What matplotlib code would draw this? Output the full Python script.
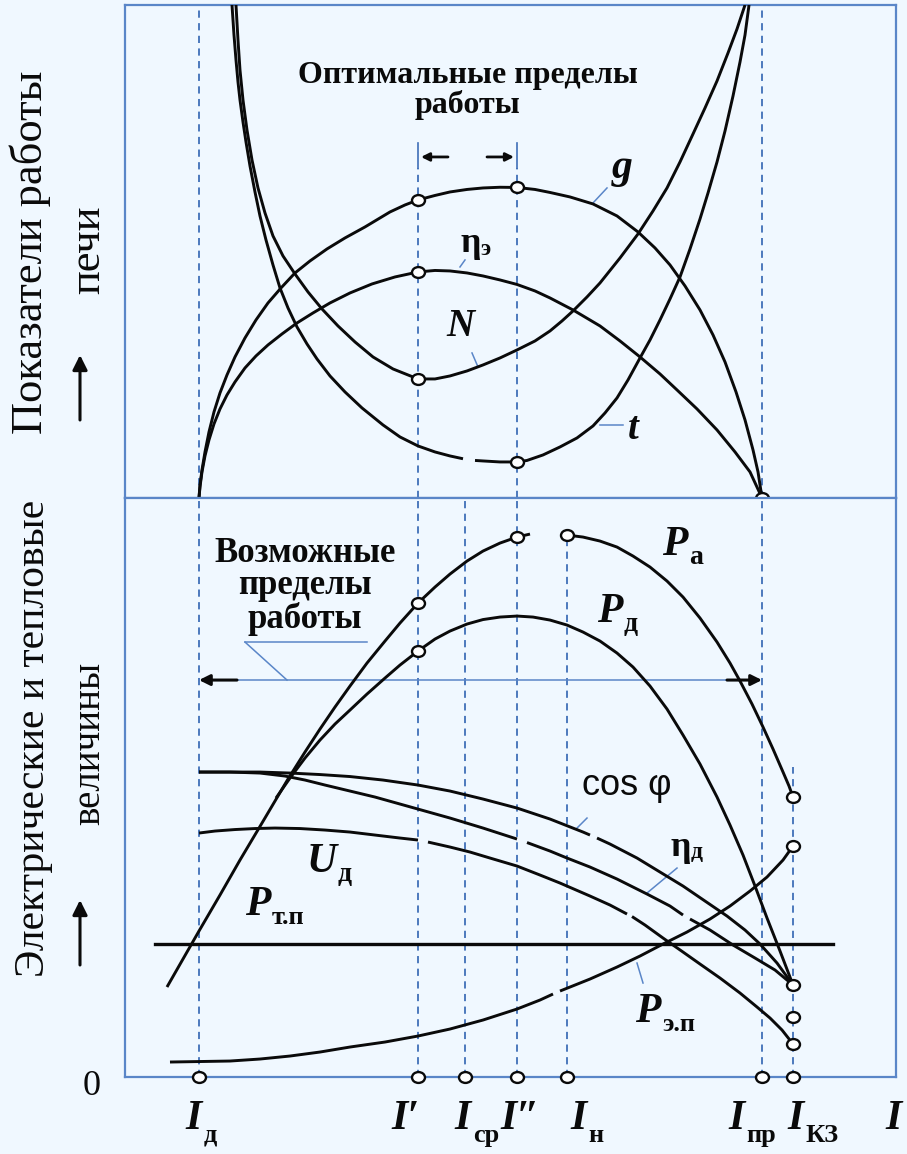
import numpy as np
import matplotlib
matplotlib.use("Agg")
import matplotlib.pyplot as plt
from matplotlib.markers import MarkerStyle
from matplotlib.transforms import Affine2D
from matplotlib.patches import FancyArrowPatch

plt.rcParams['font.family'] = ['Liberation Serif', 'DejaVu Serif']

BG = '#f0f8ff'
BLUE = '#3f6fb8'
BOX = '#5a86c8'
INK = '#0a0a0a'

# ---- characteristic currents (relative units along the current axis) ----
I_d, I_1, I_sr, I_2, I_n, I_pr, I_kz = 7.4, 29.3, 34.0, 39.2, 44.2, 63.7, 66.8
X_MAX = 77.1
Y_TOP_MAX = 49.3
Y_BOT_MAX = 57.9

# ---- furnace performance indicators (upper panel) ----
g_x = [7.4, 7.5, 7.7, 8.0, 8.4, 8.9, 9.5, 10.2, 11.0, 12.0, 13.1, 14.3, 15.6, 17.0,
       18.5, 20.2, 22.0, 24.0, 26.5, 28.0, 29.3, 31.0, 32.5, 34.2, 35.8, 37.5, 39.2,
       41.0, 42.5, 44.5, 46.8, 49.2, 51.3, 53.0, 54.5, 56.0, 57.5, 58.8, 60.0, 61.1,
       62.0, 62.8, 63.3, 63.7]
g_y = [0.0, 1.3, 2.8, 4.6, 6.6, 8.6, 10.5, 12.3, 14.1, 16.0, 17.8, 19.5, 21.0, 22.5,
       23.7, 24.9, 26.0, 27.1, 28.6, 29.3, 29.8, 30.25, 30.6, 30.85, 31.0, 31.07, 31.05,
       30.85, 30.55, 30.1, 29.4, 28.2, 26.6, 25.0, 23.3, 21.2, 18.8, 16.3, 13.6, 10.6,
       7.8, 4.8, 2.6, 0.0]

eta_e_x = [7.4, 7.5, 7.7, 8.0, 8.4, 8.9, 9.5, 10.2, 11.0, 12.0, 13.1, 14.3, 15.7, 17.2,
           18.8, 20.5, 22.5, 24.7, 27.0, 29.3, 31.0, 32.5, 34.2, 35.8, 37.5, 39.2, 41.0,
           42.5, 44.8, 47.5, 49.5, 51.5, 53.5, 55.2, 57.2, 59.2, 61.0, 62.5, 63.7]
eta_e_y = [0.0, 1.1, 2.6, 4.2, 5.8, 7.4, 8.9, 10.3, 11.6, 13.0, 14.2, 15.3, 16.4, 17.5,
           18.5, 19.5, 20.5, 21.4, 22.1, 22.6, 22.75, 22.7, 22.5, 22.2, 21.8, 21.35, 20.7,
           20.0, 18.8, 17.2, 15.7, 14.1, 12.4, 10.8, 8.9, 6.8, 4.6, 2.6, 0.0]

N_x = [11.1, 11.3, 11.5, 11.8, 12.2, 12.7, 13.3, 14.0, 14.8, 15.8, 17.0, 18.3, 19.7,
       21.3, 23.0, 24.8, 26.8, 29.3, 31.0, 32.5, 34.2, 35.8, 37.5, 39.2, 41.0, 42.5,
       43.7, 44.8, 46.2, 47.5, 49.5, 51.3, 52.8, 54.2, 55.5, 56.8, 58.0, 59.2, 60.3,
       61.2, 62.0]
N_y = [49.3, 45.8, 42.8, 39.8, 36.8, 33.8, 31.0, 28.5, 26.2, 24.2, 22.4, 20.6, 18.9,
       17.2, 15.6, 14.1, 12.9, 11.9, 11.9, 12.2, 12.7, 13.3, 14.0, 14.8, 15.7, 16.7,
       17.7, 18.7, 20.1, 21.5, 24.0, 26.4, 28.7, 31.0, 33.6, 36.4, 39.0, 41.7, 44.5,
       46.9, 49.3]

t_x = [10.7, 10.9, 11.1, 11.3, 11.5, 11.8, 12.1, 12.5, 13.0, 13.5, 14.1, 14.8, 15.5,
       16.3, 17.2, 18.2, 19.2, 20.5, 22.0, 23.7, 25.8, 27.5, 29.3, 31.0, 32.5, 33.8,
       35.0, 35.8, 37.5, 39.2, 40.2, 41.8, 43.5, 45.2, 46.8, 48.0, 49.2, 50.3, 51.5, 52.5,
       53.5, 54.5, 55.5, 56.5, 57.5, 58.3, 59.2, 60.0, 60.8, 61.5, 62.0, 62.4]
t_y = [49.3, 46.3, 43.8, 41.6, 39.8, 37.6, 35.6, 33.2, 30.6, 28.2, 25.8, 23.3, 21.0,
       19.0, 17.1, 15.4, 13.9, 12.2, 10.6, 9.0, 7.3, 6.1, 5.2, 4.6, 4.2, 3.92,
       3.75, 3.7, 3.6, 3.6, 3.75, 4.3, 5.1, 6.0, 7.2, 8.5, 10.0, 11.8, 14.0, 15.8,
       17.8, 19.9, 22.1, 24.9, 27.9, 30.5, 33.6, 36.7, 40.2, 43.6, 46.3, 49.3]

# ---- electrical and thermal quantities (lower panel) ----
Pa_left_x = [4.2, 5.8, 7.4, 9.5, 11.5, 13.7, 16.3, 18.0, 19.5, 21.0, 22.5, 24.2, 26.0,
             27.5, 29.3, 31.0, 32.5, 34.2, 35.8, 37.5, 39.2, 40.5]
Pa_left_y = [9.0, 11.8, 14.6, 18.2, 21.7, 25.4, 29.8, 32.5, 34.8, 37.0, 39.1, 41.4, 43.6,
             45.4, 47.4, 49.0, 50.3, 51.6, 52.6, 53.4, 54.0, 54.3]
Pa_right_x = [44.2, 45.8, 47.5, 49.2, 50.8, 52.5, 54.2, 55.8, 57.5, 59.2, 60.5, 61.5,
              62.7, 63.8, 64.8, 65.8, 66.4, 66.8]
Pa_right_y = [54.2, 54.0, 53.6, 53.0, 52.1, 51.0, 49.6, 48.0, 45.9, 43.5, 41.4, 39.6,
              37.3, 35.0, 32.8, 30.5, 29.1, 28.0]

Pd_x = [15.1, 16.5, 18.0, 19.5, 21.0, 22.5, 24.2, 26.0, 27.5, 29.3, 31.0, 32.5, 34.2,
        35.8, 37.5, 39.2, 40.8, 42.5, 44.2, 45.8, 47.5, 49.2, 50.8, 52.5, 54.2, 55.8,
        57.5, 59.2, 60.5, 61.8, 63.0, 64.2, 65.5, 66.8]
Pd_y = [27.9, 29.9, 31.9, 33.7, 35.3, 36.7, 38.3, 39.9, 41.2, 42.6, 43.8, 44.6, 45.3,
        45.75, 46.0, 46.1, 46.0, 45.7, 45.2, 44.5, 43.6, 42.4, 41.0, 39.1, 36.8, 34.2,
        31.3, 28.0, 25.2, 22.2, 19.1, 15.9, 12.6, 9.2]

cos_x = [7.4, 10.5, 13.5, 16.5, 19.5, 22.5, 25.8, 29.3, 32.5, 35.8, 39.2, 42.5, 45.8,
         46.5, 47.2, 48.5, 51.2, 53.5, 55.8, 58.0, 60.2, 62.0, 63.5, 65.2, 66.8]
cos_y = [30.5, 30.5, 30.5, 30.4, 30.25, 30.05, 29.7, 29.2, 28.6, 27.8, 26.9, 25.8, 24.5,
         24.2, 23.9, 23.3, 21.9, 20.5, 19.1, 17.6, 16.1, 14.7, 13.3, 11.4, 9.2]

eta_d_x = [7.4, 10.5, 13.5, 16.0, 18.0, 20.0, 22.5, 25.0, 27.5, 30.0, 32.5, 35.8, 39.2,
           40.2, 42.5, 44.2, 46.5, 49.2, 52.2, 54.5, 55.8, 56.5, 58.5, 60.8, 63.0, 65.0, 66.8]
eta_d_y = [30.5, 30.5, 30.4, 30.1, 29.7, 29.2, 28.6, 28.0, 27.3, 26.6, 25.9, 24.9, 23.8,
           23.45, 22.6, 21.9, 21.0, 19.8, 18.3, 17.1, 16.2, 15.8, 14.7, 13.2, 11.9, 10.7, 9.2]

U_x = [7.4, 9.0, 11.0, 13.0, 15.0, 17.5, 20.0, 22.5, 25.0, 27.5, 29.3, 30.3, 32.5,
       34.5, 36.5, 39.2, 41.5, 43.5, 46.5, 48.5, 50.2, 50.7, 52.0, 53.8, 55.8, 57.5,
       59.5, 61.5, 63.2, 64.5, 65.7, 66.8]
U_y = [24.4, 24.6, 24.75, 24.85, 24.9, 24.85, 24.7, 24.5, 24.2, 23.9, 23.7, 23.5, 23.0,
       22.5, 21.9, 21.1, 20.2, 19.4, 18.1, 17.2, 16.3, 16.05, 15.2, 13.9, 12.5, 11.3,
       9.9, 8.4, 7.0, 5.9, 4.7, 3.3]

Pep_x = [4.5, 7.5, 10.5, 13.5, 16.5, 19.5, 22.5, 26.0, 29.3, 32.5, 35.8, 39.2, 41.5,
         42.8, 43.5, 46.5, 49.2, 51.5, 53.8, 56.2, 58.5, 60.5, 62.5, 64.2, 65.8, 66.8]
Pep_y = [1.5, 1.55, 1.6, 1.8, 2.1, 2.5, 3.0, 3.5, 4.1, 4.8, 5.7, 6.8, 7.7,
         8.3, 8.6, 9.8, 11.0, 12.1, 13.3, 14.5, 15.8, 17.1, 18.6, 20.0, 21.7, 23.1]

P_tp = 13.3
P_tp_span = (3.0, 70.8)

kz_extra = 6.0

# ---------------------------------------------------------------------------
fig = plt.figure(figsize=(9.07, 11.54), dpi=100, facecolor=BG)
ax_top = fig.add_axes([0.1378, 0.5685, 0.8501, 0.4272])
ax_bot = fig.add_axes([0.1378, 0.0667, 0.8501, 0.5017])

for ax, ymax in ((ax_top, Y_TOP_MAX), (ax_bot, Y_BOT_MAX)):
    ax.set_facecolor(BG)
    ax.set_xlim(0, X_MAX)
    ax.set_ylim(0, ymax)
    ax.set_xticks([])
    ax.set_yticks([])
    for sp in ax.spines.values():
        sp.set_color(BOX)
        sp.set_linewidth(1.6)

DASH = (0, (4, 3))
LW_DASH = 1.3


def vdash(ax, x, y0, y1):
    ax.plot([x, x], [y0, y1], color=BLUE, lw=LW_DASH, ls=DASH, zorder=1)


# dashed construction lines
for x in (I_d, I_pr):
    vdash(ax_top, x, 0, Y_TOP_MAX)
for x in (I_1, I_2):
    vdash(ax_top, x, 0, 33.0)
    ax_top.plot([x, x], [33.0, 35.5], color=BLUE, lw=1.2, zorder=1)
for x in (I_d, I_1, I_sr, I_2, I_pr):
    vdash(ax_bot, x, 0, Y_BOT_MAX)
vdash(ax_bot, I_n, 0, 54.2)
vdash(ax_bot, I_kz, 0, 31.0)

CURVE = dict(color=INK, lw=2.1, solid_capstyle='butt', solid_joinstyle='round', zorder=3)


def curve(ax, xs, ys, breaks=()):
    """Draw a polyline through the points, leaving a small break after each index in breaks."""
    start = 0
    for b in list(breaks) + [len(xs) - 1]:
        ax.plot(xs[start:b + 1], ys[start:b + 1], **CURVE)
        start = b + 1


# upper panel curves
curve(ax_top, g_x, g_y)
curve(ax_top, eta_e_x, eta_e_y)
curve(ax_top, N_x, N_y)
curve(ax_top, t_x, t_y, breaks=[25])

# lower panel curves
curve(ax_bot, Pa_left_x, Pa_left_y)
curve(ax_bot, Pa_right_x, Pa_right_y)
curve(ax_bot, Pd_x, Pd_y)
curve(ax_bot, cos_x, cos_y, breaks=[13])
curve(ax_bot, eta_d_x, eta_d_y, breaks=[12, 20])
curve(ax_bot, U_x, U_y, breaks=[10, 20])
curve(ax_bot, Pep_x, Pep_y, breaks=[13])
ax_bot.plot(P_tp_span, [P_tp, P_tp], color=INK, lw=2.4, zorder=3)

oval = MarkerStyle('o', transform=Affine2D().scale(1.1, 0.92))
MK = dict(marker=oval, ms=8.5, mfc='white', mec=INK, mew=1.7, ls='none', zorder=6)

# characteristic points
ax_top.plot([I_1, I_2], [np.interp(I_1, g_x, g_y), np.interp(I_2, g_x, g_y)], **MK)
ax_top.plot([I_1], [np.interp(I_1, eta_e_x, eta_e_y)], **MK)
ax_top.plot([I_1], [np.interp(I_1, N_x, N_y)], **MK)
ax_top.plot([I_2], [np.interp(I_2, t_x, t_y)], **MK)
ax_top.plot([I_pr], [0], clip_on=False, **MK)

ax_bot.plot([I_1, I_2], [np.interp(I_1, Pa_left_x, Pa_left_y),
                         np.interp(I_2, Pa_left_x, Pa_left_y)], **MK)
ax_bot.plot([I_n], [Pa_right_y[0]], **MK)
ax_bot.plot([I_1], [np.interp(I_1, Pd_x, Pd_y)], **MK)
kz_points = [Pa_right_y[-1], Pep_y[-1], Pd_y[-1], kz_extra, U_y[-1]]
ax_bot.plot([I_kz] * len(kz_points), kz_points, **MK)
ax_bot.plot([I_d, I_1, I_sr, I_2, I_n, I_pr, I_kz], [0] * 7, clip_on=False, **MK)

LEAD = dict(color=BOX, lw=1.1, zorder=2)

# ---- labels ----


def var_label(ax, x, y, main, sub=None, size=30, subsize=19, dx=12, dy=-9, upright=False):
    ax.text(x, y, main, fontsize=size, style='normal' if upright else 'italic',
            weight='bold', color=INK, ha='center', va='center', zorder=7)
    if sub:
        ax.annotate(sub, xy=(x, y), xytext=(dx, dy), textcoords='offset points',
                    fontsize=subsize, weight='bold', color=INK,
                    ha='left', va='center', zorder=7)


var_label(ax_top, 49.7, 33.0, 'g', size=30)
ax_top.plot([46.8, 48.2], [29.5, 31.0], **LEAD)
var_label(ax_top, 34.6, 25.4, 'η', 'э', size=26, subsize=17, dx=7, dy=-4, upright=True)
ax_top.plot([33.5, 34.0], [23.1, 23.8], **LEAD)
var_label(ax_top, 33.5, 17.1, 'N', size=28)
ax_top.plot([34.7, 35.3], [14.5, 13.1], **LEAD)
var_label(ax_top, 50.8, 6.8, 't', size=28)
ax_top.plot([47.5, 49.8], [7.3, 7.3], **LEAD)

ax_top.text((I_1 + I_2) / 2, 40.7, 'Оптимальные пределы\nработы', fontsize=23,
            weight='bold', ha='center', va='center', linespacing=1.0, color=INK)
ARR = dict(arrowstyle='-|>', color=INK, lw=2.0, mutation_scale=12, shrinkA=0, shrinkB=0)
ax_top.annotate('', xy=(I_1 + 0.3, 34.1), xytext=(I_1 + 3.0, 34.1), arrowprops=ARR)
ax_top.annotate('', xy=(I_2 - 0.3, 34.1), xytext=(I_2 - 3.0, 34.1), arrowprops=ARR)

var_label(ax_bot, 55.0, 53.2, 'P', 'а', size=30, subsize=20, dx=10, dy=-9)
var_label(ax_bot, 48.5, 46.5, 'P', 'д', size=30, subsize=20, dx=10, dy=-9)
ax_bot.text(50.2, 29.2, 'cos φ', fontsize=26, ha='center', va='center', color=INK,
            family=['Liberation Sans', 'DejaVu Sans'])
ax_bot.plot([45.2, 46.2], [24.9, 25.9], **LEAD)
var_label(ax_bot, 55.6, 23.0, 'η', 'д', size=26, subsize=17, dx=7, dy=-4, upright=True)
ax_bot.plot([52.2, 55.2], [18.4, 20.9], **LEAD)
var_label(ax_bot, 19.7, 21.5, 'U', 'д', size=30, subsize=20, dx=11, dy=-9)
var_label(ax_bot, 13.3, 17.2, 'P', 'т.п', size=30, subsize=19, dx=10, dy=-9)
var_label(ax_bot, 52.3, 6.5, 'P', 'э.п', size=30, subsize=19, dx=10, dy=-9)
ax_bot.plot([51.2, 51.8], [11.4, 9.4], **LEAD)

ax_bot.text(18.0, 49.1, 'Возможные\nпределы\nработы', fontsize=25, weight='bold',
            ha='center', va='center', linespacing=0.98, color=INK)
ax_bot.plot([12.0, 24.2], [43.5, 43.5], **LEAD)
ax_bot.plot([12.0, 16.2], [43.5, 39.7], **LEAD)
ax_bot.plot([11.2, 60.2], [39.7, 39.7], **LEAD)
ARR2 = dict(arrowstyle='-|>', color=INK, lw=2.2, mutation_scale=16, shrinkA=0, shrinkB=0)
ax_bot.annotate('', xy=(I_d, 39.7), xytext=(11.2, 39.7), arrowprops=ARR2)
ax_bot.annotate('', xy=(I_pr, 39.7), xytext=(60.2, 39.7), arrowprops=ARR2)

# ---- current axis labels ----
tr = ax_bot.get_xaxis_transform()
IL = dict(style='italic', weight='bold', color=INK, ha='center', va='center', fontsize=30)
SUB = dict(weight='bold', color=INK, ha='left', va='center', fontsize=19)
tick_labels = [(I_d, 'I', 'д', -0.5), (I_1, 'I′', None, -1.3), (I_sr, 'I', 'ср', -0.2),
               (I_2, 'I″', None, 0.3), (I_n, 'I', 'н', 1.2), (I_pr, 'I', 'пр', -2.5),
               (I_kz, 'I', 'КЗ', 0.3), (X_MAX - 0.2, 'I', None, 0.0)]
for x, main, sub, off in tick_labels:
    ax_bot.text(x + off, -0.072, main, transform=tr, clip_on=False, **IL)
    if sub:
        ax_bot.annotate(sub, xy=(x + off, -0.072), xycoords=tr, xytext=(7, -12),
                        textcoords='offset points', annotation_clip=False, **SUB)
ax_bot.text(-3.3, -0.017, '0', transform=tr, fontsize=26, ha='center', va='center',
            color=INK, clip_on=False)

# ---- rotated axis titles ----
fig.text(30 / 907, 1 - 252 / 1154, 'Показатели работы', rotation=90, fontsize=32,
         ha='center', va='center', color=INK)
fig.text(88 / 907, 1 - 250 / 1154, 'печи', rotation=90, fontsize=32,
         ha='center', va='center', color=INK)
fig.text(34 / 907, 1 - 738 / 1154, 'Электрические и тепловые', rotation=90, fontsize=30,
         ha='center', va='center', color=INK)
fig.text(90 / 907, 1 - 743 / 1154, 'величины', rotation=90, fontsize=28,
         ha='center', va='center', color=INK)
ARR3 = dict(arrowstyle='-|>', color=INK, lw=2.2, mutation_scale=22, shrinkA=0, shrinkB=0)
fig.add_artist(FancyArrowPatch((80 / 907, 1 - 420 / 1154), (80 / 907, 1 - 355 / 1154),
                               transform=fig.transFigure, **ARR3))
fig.add_artist(FancyArrowPatch((80 / 907, 1 - 965 / 1154), (80 / 907, 1 - 900 / 1154),
                               transform=fig.transFigure, **ARR3))

fig.savefig('out.png', dpi=100, facecolor=BG)
